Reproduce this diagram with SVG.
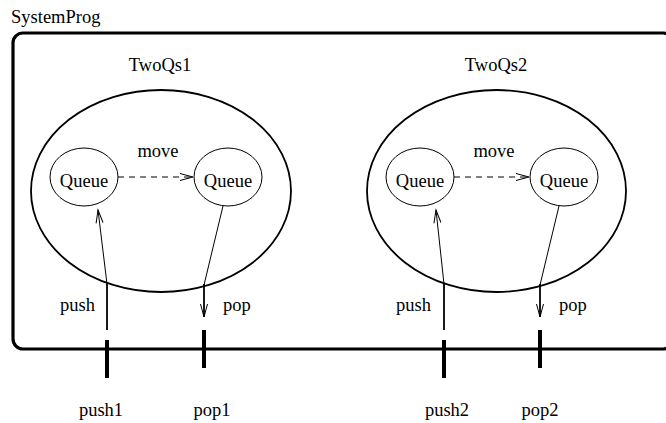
<svg xmlns="http://www.w3.org/2000/svg" width="666" height="423" viewBox="0 0 666 423">
  <style>
    text { font-family: "Liberation Serif", "Times New Roman", serif; font-size: 18.5px; fill: #000; }
    .mid { text-anchor: middle; }
    .frame { fill: none; stroke: #000; stroke-width: 3.2; }
    .outer { fill: none; stroke: #000; stroke-width: 1.8; }
    .inner { fill: none; stroke: #000; stroke-width: 1; }
    .thin { fill: none; stroke: #000; stroke-width: 1; }
    .wire { fill: none; stroke: #000; stroke-width: 1.8; }
    .dash { fill: none; stroke: #000; stroke-width: 1; stroke-dasharray: 6 5; }
    .port { stroke: #000; stroke-width: 4; }
  </style>
  <defs>
    <marker id="vee" markerUnits="userSpaceOnUse" markerWidth="16" markerHeight="10" viewBox="-1 -5 16 10" refX="13" refY="0" orient="auto">
      <path d="M0,-3.5 L13,0 L0,3.5" fill="none" stroke="#000" stroke-width="1"/>
    </marker>
  </defs>

  <!-- enclosing system -->
  <g id="SystemProg">
    <rect class="frame" x="13" y="33" width="660" height="316" rx="10" ry="10"/>
    <text x="11" y="23">SystemProg</text>
  </g>

  <!-- first two-queue component -->
  <g id="TwoQs1">
    <text x="160" y="71" class="mid">TwoQs1</text>
    <ellipse class="outer" cx="161" cy="191" rx="130" ry="101"/>
  </g>
  <g id="TwoQs1-Queue-a">
    <ellipse class="inner" cx="84" cy="177" rx="34" ry="29"/>
    <text x="84" y="187" class="mid">Queue</text>
  </g>
  <g id="TwoQs1-Queue-b">
    <ellipse class="inner" cx="228" cy="177" rx="34" ry="29"/>
    <text x="228" y="187" class="mid">Queue</text>
  </g>

  <!-- second two-queue component -->
  <g id="TwoQs2">
    <text x="496" y="71" class="mid">TwoQs2</text>
    <ellipse class="outer" cx="496.5" cy="191" rx="129.5" ry="101"/>
  </g>
  <g id="TwoQs2-Queue-a">
    <ellipse class="inner" cx="420" cy="177" rx="34" ry="29"/>
    <text x="420" y="187" class="mid">Queue</text>
  </g>
  <g id="TwoQs2-Queue-b">
    <ellipse class="inner" cx="564" cy="177" rx="34" ry="29"/>
    <text x="564" y="187" class="mid">Queue</text>
  </g>

  <!-- external ports -->
  <g id="push1">
    <line class="port" x1="107" y1="340" x2="107" y2="378"/>
    <text x="101" y="416" class="mid">push1</text>
  </g>
  <g id="pop1">
    <line class="port" x1="204" y1="330" x2="204" y2="368"/>
    <text x="212" y="416" class="mid">pop1</text>
  </g>
  <g id="push2">
    <line class="port" x1="444" y1="340" x2="444" y2="378"/>
    <text x="447" y="416" class="mid">push2</text>
  </g>
  <g id="pop2">
    <line class="port" x1="540" y1="330" x2="540" y2="368"/>
    <text x="540" y="416" class="mid">pop2</text>
  </g>

  <!-- connectors -->
  <g id="connectors">
    <!-- TwoQs1 -->
    <line class="dash" x1="118" y1="177" x2="193" y2="177" marker-end="url(#vee)"/>
    <text x="158" y="157" class="mid">move</text>
    <line class="wire" x1="107" y1="330" x2="107" y2="283"/>
    <line class="thin" x1="107" y1="284" x2="98" y2="210" marker-end="url(#vee)"/>
    <text x="60" y="311">push</text>
    <line class="thin" x1="223" y1="206" x2="204" y2="285"/>
    <line class="wire" x1="204" y1="284" x2="204" y2="317" marker-end="url(#vee)"/>
    <text x="223" y="311">pop</text>

    <!-- TwoQs2 -->
    <line class="dash" x1="454" y1="177" x2="529" y2="177" marker-end="url(#vee)"/>
    <text x="494" y="157" class="mid">move</text>
    <line class="wire" x1="444" y1="330" x2="444" y2="283"/>
    <line class="thin" x1="444" y1="284" x2="436" y2="210" marker-end="url(#vee)"/>
    <text x="396" y="311">push</text>
    <line class="thin" x1="559" y1="206" x2="540" y2="285"/>
    <line class="wire" x1="540" y1="284" x2="540" y2="317" marker-end="url(#vee)"/>
    <text x="559" y="311">pop</text>
  </g>
</svg>
